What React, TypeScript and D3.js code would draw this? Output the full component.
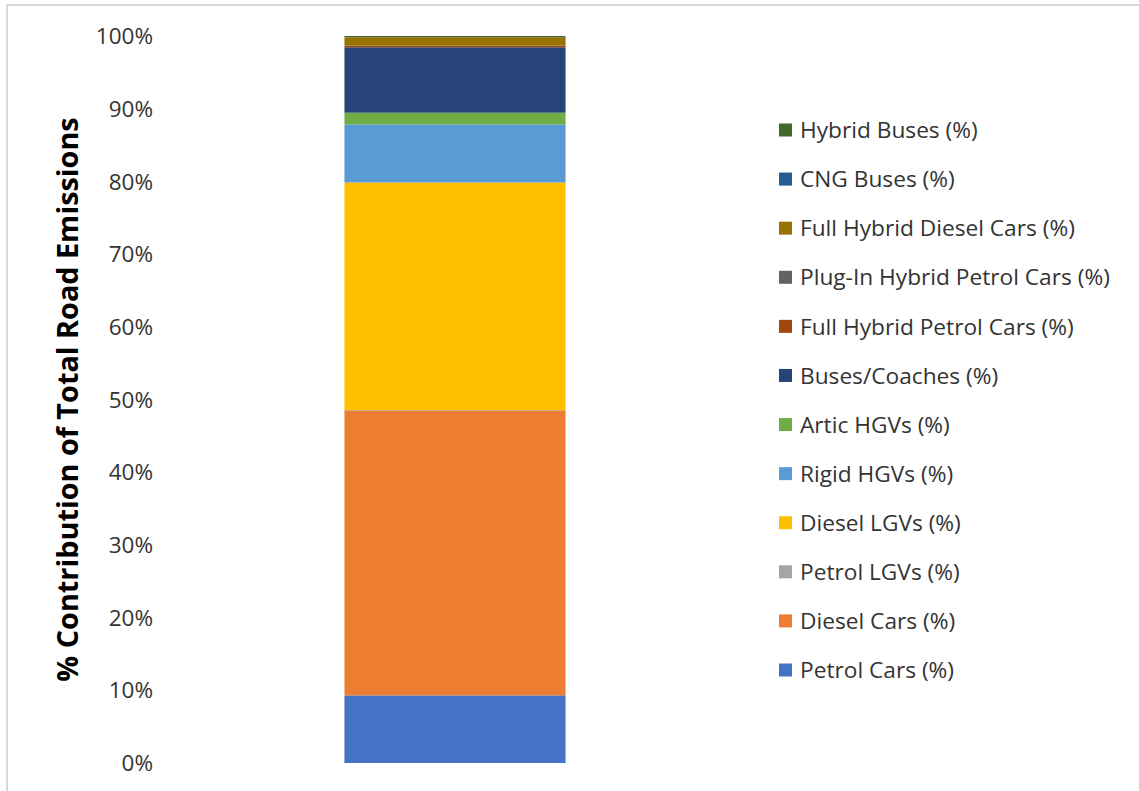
import React from "react";
import * as d3 from "d3";

const seriesNames = [
  "Petrol Cars (%)",
  "Diesel Cars (%)",
  "Petrol LGVs (%)",
  "Diesel LGVs (%)",
  "Rigid HGVs (%)",
  "Artic HGVs (%)",
  "Buses/Coaches (%)",
  "Full Hybrid Petrol Cars (%)",
  "Plug-In Hybrid Petrol Cars (%)",
  "Full Hybrid Diesel Cars (%)",
  "CNG Buses (%)",
  "Hybrid Buses (%)",
];
const seriesValues = [9.3, 39.2, 0.05, 31.3, 8.0, 1.6, 9.0, 0.18, 0.05, 1.15, 0.02, 0.15];
const seriesColors = [
  "#4472C4", "#ED7D31", "#A5A5A5", "#FFC000", "#5B9BD5", "#70AD47",
  "#264478", "#9E480E", "#636363", "#997300", "#255E91", "#43682B",
];
const yTicks = [0, 10, 20, 30, 40, 50, 60, 70, 80, 90, 100];
const yTitle = "% Contribution of Total Road Emissions";

const FONT = "'Open Sans', 'Liberation Sans', sans-serif";

export default function App() {
  const W = 1139, H = 791;
  const total = d3.sum(seriesValues);
  const y = d3.scaleLinear().domain([0, 100]).range([763, 36]);
  const x = d3.scaleBand().domain(["all"]).range([254, 656]).paddingInner(0.45).paddingOuter(0.225);
  const cum: number[] = [];
  let acc = 0;
  seriesValues.forEach((v) => { cum.push(acc); acc += (v / total) * 100; });
  const bx = x("all") as number;
  const bw = x.bandwidth();
  const legendY = d3.scalePoint<number>().domain(d3.range(seriesNames.length)).range([670, 130]);

  return (
    <svg width={W} height={H} style={{ position: "absolute", left: 0, top: 0, background: "#fff" }} fontFamily={FONT}>
      <rect x={7} y={5} width={W} height={H} fill="#fff" stroke="#d9d9d9" strokeWidth={2} />
      {seriesValues.map((v, i) => {
        const p = (v / total) * 100;
        return (
          <rect key={i} x={bx} width={bw} y={y(cum[i] + p)} height={y(cum[i]) - y(cum[i] + p)} fill={seriesColors[i]} />
        );
      })}
      {yTicks.map((t) => (
        <text key={t} x={153} y={y(t)} dy="0.36em" textAnchor="end" fontSize={22.5} fill="#333">{t}%</text>
      ))}
      <text transform={`translate(78,${y(50)}) rotate(-90)`} textAnchor="middle" fontSize={28.8} fontWeight="bold" fill="#000">{yTitle}</text>
      {seriesNames.map((n, i) => (
        <g key={n} transform={`translate(779,${legendY(i)})`}>
          <rect x={0} y={-6.5} width={13} height={13} fill={seriesColors[i]} />
          <text x={21} y={0} dy="0.36em" fontSize={22.7} fill="#333">{n}</text>
        </g>
      ))}
    </svg>
  );
}
